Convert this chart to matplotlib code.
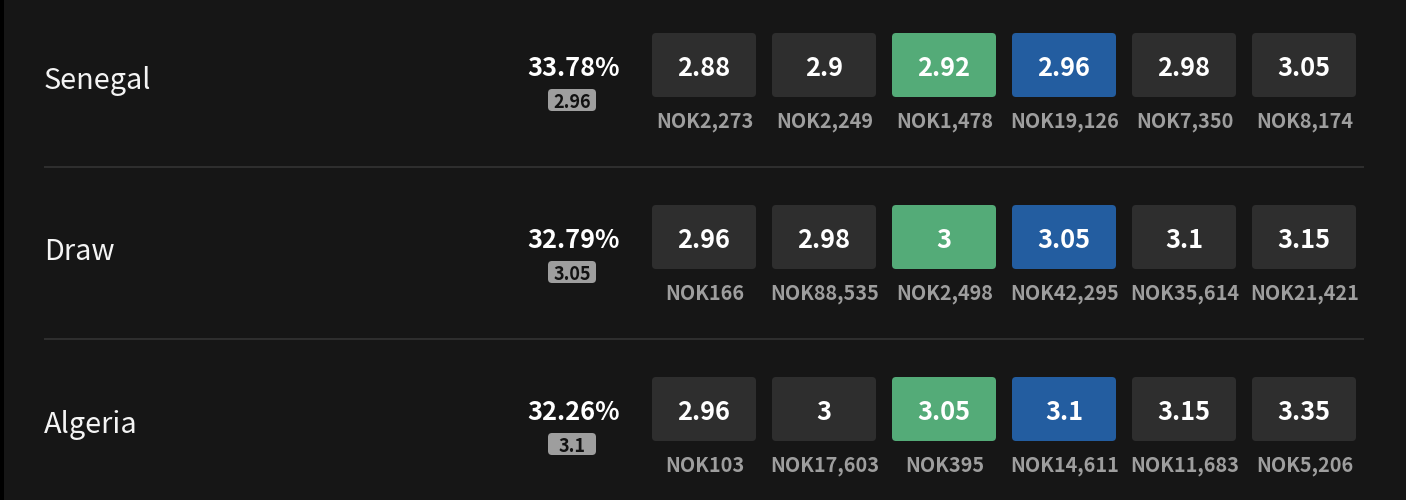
import matplotlib
matplotlib.use("Agg")
import matplotlib.pyplot as plt
from matplotlib.patches import FancyBboxPatch, Rectangle

outcomes = ["Senegal", "Draw", "Algeria"]
percents = ["33.78%", "32.79%", "32.26%"]
fair_odds = ["2.96", "3.05", "3.1"]
odds = [
    ["2.88", "2.9", "2.92", "2.96", "2.98", "3.05"],
    ["2.96", "2.98", "3", "3.05", "3.1", "3.15"],
    ["2.96", "3", "3.05", "3.1", "3.15", "3.35"],
]
stakes = [
    ["NOK2,273", "NOK2,249", "NOK1,478", "NOK19,126", "NOK7,350", "NOK8,174"],
    ["NOK166", "NOK88,535", "NOK2,498", "NOK42,295", "NOK35,614", "NOK21,421"],
    ["NOK103", "NOK17,603", "NOK395", "NOK14,611", "NOK11,683", "NOK5,206"],
]

FONT = ["Noto Sans CJK JP", "DejaVu Sans"]
BG = "#161616"
CELL = "#2e2e2e"
GREEN = "#54ab78"
BLUE = "#235da0"
GREY = "#9e9e9e"
LINE = "#2f2f2f"

ROW_STEP = 172
CELL_W, CELL_H = 104, 64


def box(ax, x, y, w, h, color, r=4):
    ax.add_patch(FancyBboxPatch((x + r, y + r), w - 2 * r, h - 2 * r,
                                boxstyle=f"round,pad={r},rounding_size={r}",
                                fc=color, ec="none", lw=0))


fig = plt.figure(figsize=(14.06, 5), dpi=100, facecolor=BG)
ax = fig.add_axes([0, 0, 1, 1])
ax.set_xlim(0, 1406)
ax.set_ylim(500, 0)
ax.axis("off")

# black strip down the left edge of the screenshot
ax.add_patch(Rectangle((0, 0), 4, 500, fc="black", ec="none"))

for i, name in enumerate(outcomes):
    top = i * ROW_STEP
    ax.text(44, top + 77, name, color="#f4f4f4", fontsize=20.8, family=FONT,
            va="center_baseline", ha="left")
    ax.text(574, top + 65, percents[i], color="white", fontsize=18.3, family=FONT,
            fontweight="bold", va="center_baseline", ha="center")
    box(ax, 548, top + 89, 48, 22, GREY)
    ax.text(572, top + 100, fair_odds[i], color="#111111", fontsize=13, family=FONT,
            fontweight="bold", va="center_baseline", ha="center")

    for j in range(6):
        x = 652 + j * 120
        color = {2: GREEN, 3: BLUE}.get(j, CELL)
        box(ax, x, top + 33, CELL_W, CELL_H, color)
        ax.text(x + CELL_W / 2, top + 65, odds[i][j], color="white", fontsize=18.3,
                family=FONT, fontweight="bold", va="center_baseline", ha="center")
        ax.text(x + CELL_W / 2 + 0.5, top + 119.5, stakes[i][j], color=GREY, fontsize=14.3,
                family=FONT, fontweight="bold", va="center_baseline", ha="center")

    if i < len(outcomes) - 1:
        ax.plot([44, 1364], [top + 167, top + 167], color=LINE, lw=1.4,
                solid_capstyle="butt")

fig.savefig("out.png", dpi=100, facecolor=BG)
